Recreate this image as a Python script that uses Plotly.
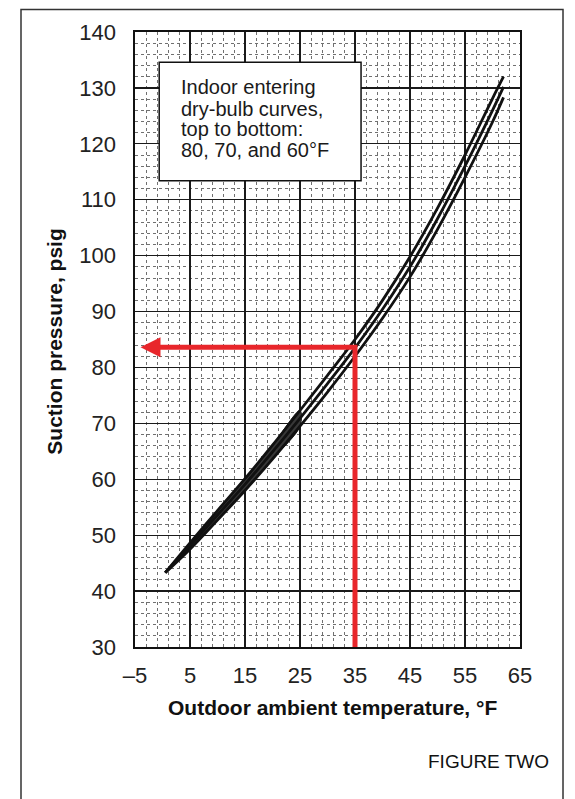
import plotly.graph_objects as go

# ---- data ----
temps = [0.5, 5, 10, 15, 20, 25, 30, 35, 40, 45, 50, 55, 60, 62]
psig_80F = [43.3, 48.6, 54.4, 60.1, 66.1, 72.3, 78.6, 85.0, 92.0, 99.8, 108.5, 118.0, 128.1, 132.0]
psig_70F = [43.3, 48.1, 53.6, 59.1, 64.9, 70.9, 77.1, 83.5, 90.4, 98.0, 106.6, 116.0, 126.0, 130.2]
psig_60F = [43.3, 47.5, 52.7, 58.0, 63.6, 69.5, 75.6, 82.0, 88.8, 96.2, 104.7, 114.0, 123.9, 128.3]

read_temp = 35
read_psig = 83.6

x_ticks = [-5, 5, 15, 25, 35, 45, 55, 65]
x_tick_text = ["\u20135", "5", "15", "25", "35", "45", "55", "65"]
y_ticks = [30, 40, 50, 60, 70, 80, 90, 100, 110, 120, 130, 140]

box_lines = ["Indoor entering", "dry-bulb curves,", "top to bottom:", "80, 70, and 60\u00b0F"]

RED = "#e8262b"
FONT = "Liberation Sans, Arial, sans-serif"

fig = go.Figure()

# dark merged band in the low range
n = 6
band_x = temps[:n] + temps[:n][::-1]
band_y = psig_80F[:n] + psig_60F[:n][::-1]
fig.add_trace(go.Scatter(x=band_x, y=band_y, fill="toself", fillcolor="#383838",
                         mode="lines", line=dict(color="#1a1a1a", width=1, shape="spline"),
                         hoverinfo="skip"))

for ys in (psig_80F, psig_70F, psig_60F):
    fig.add_trace(go.Scatter(x=temps, y=ys, mode="lines",
                             line=dict(color="#111111", width=2.8, shape="spline"),
                             hoverinfo="skip"))

# red read-out lines
fig.add_trace(go.Scatter(x=[read_temp, read_temp, x_ticks[0] + 3],
                         y=[y_ticks[0], read_psig, read_psig], mode="lines",
                         line=dict(color=RED, width=5), hoverinfo="skip"))

annotations = [
    dict(x=x_ticks[0] + 1, y=read_psig, ax=x_ticks[0] + 4, ay=read_psig,
         xref="x", yref="y", axref="x", ayref="y", text="", showarrow=True,
         arrowhead=2, arrowsize=0.8, arrowwidth=5, arrowcolor=RED),
]

# text box lines
box_y = [130.1, 126.3, 122.6, 118.9]
for txt, yy in zip(box_lines, box_y):
    annotations.append(dict(x=3.0, y=yy, xref="x", yref="y", text=txt, showarrow=False,
                            xanchor="left", yanchor="middle",
                            font=dict(family=FONT, size=20, color="#1a1a1a")))

annotations += [
    dict(x=-0.2078, y=0.4965, xref="paper", yref="paper", text="<b>Suction pressure, psig</b>",
         textangle=-90, showarrow=False, xanchor="center", yanchor="middle",
         font=dict(family=FONT, size=21, color="#111")),
    dict(x=0.513, y=-0.098, xref="paper", yref="paper",
         text="<b>Outdoor ambient temperature, \u00b0F</b>", showarrow=False,
         xanchor="center", yanchor="middle", font=dict(family=FONT, size=21, color="#111")),
    dict(x=1.0805, y=-0.186, xref="paper", yref="paper", text="FIGURE TWO",
         showarrow=False, xanchor="right", yanchor="middle",
         font=dict(family=FONT, size=19, color="#111")),
]

shapes = [
    dict(type="rect", xref="x", yref="y", x0=-0.6, x1=36.1, y0=113.4, y1=134.6,
         fillcolor="white", line=dict(color="#111", width=1.5), layer="above"),
    dict(type="rect", xref="paper", yref="paper", x0=-0.2961, x1=1.1117, y0=-0.262, y1=1.0364,
         fillcolor="rgba(0,0,0,0)", line=dict(color="#333", width=1.5), layer="above"),
]

axis_common = dict(showgrid=True, gridcolor="#1a1a1a", gridwidth=1.3, showline=True,
                   mirror=True, linecolor="#111", linewidth=1.6, ticks="", zeroline=False,
                   automargin=False,
                   tickfont=dict(family=FONT, size=22, color="#222"))

fig.update_layout(
    width=575, height=799,
    margin=dict(l=135, r=55, t=32, b=152),
    paper_bgcolor="white", plot_bgcolor="white", showlegend=False,
    xaxis=dict(range=[-5, 65], tickmode="array", tickvals=x_ticks,
               ticktext=x_tick_text, ticklabelstandoff=8,
               minor=dict(tick0=-5, dtick=2, showgrid=True, gridcolor="#707070",
                          griddash="dot", gridwidth=1), **axis_common),
    yaxis=dict(range=[30, 140], tickmode="array", tickvals=y_ticks, ticklabelstandoff=13,
               minor=dict(tick0=30, dtick=2, showgrid=True, gridcolor="#707070",
                          griddash="dot", gridwidth=1), **axis_common),
    annotations=annotations, shapes=shapes,
)

fig.write_html("out.html",
               config={"displayModeBar": False, "staticPlot": True},
               post_script="document.body.style.margin='0';document.body.style.overflow='hidden';")
